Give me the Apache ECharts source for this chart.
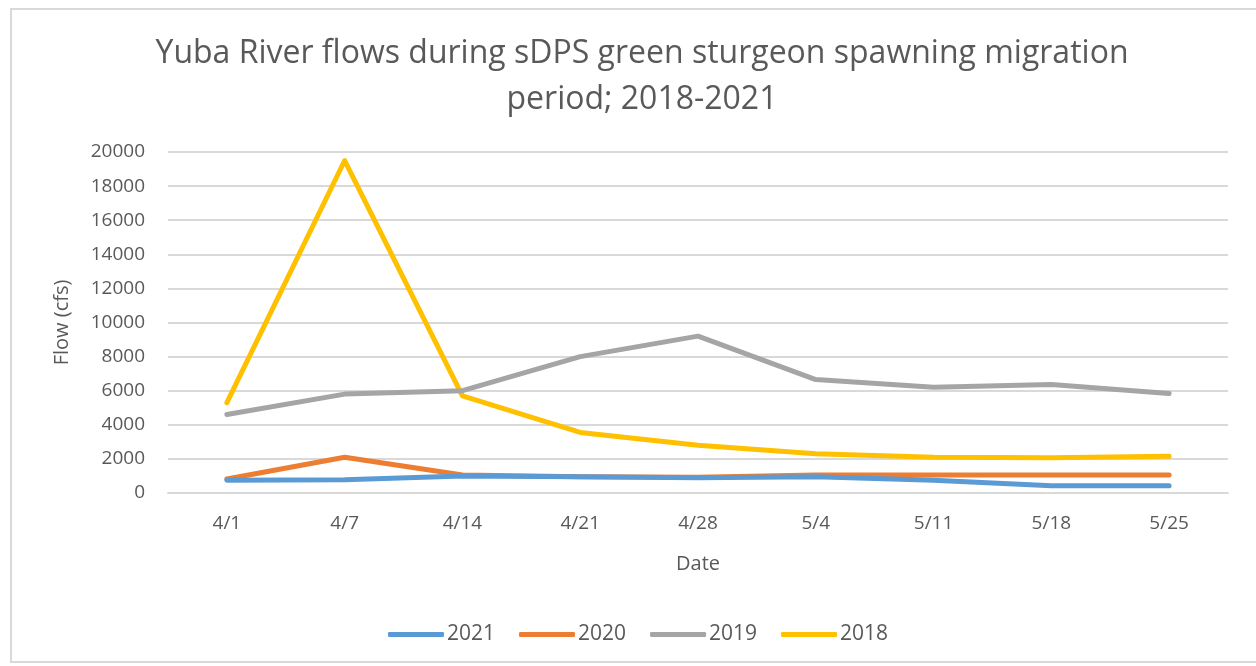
<!DOCTYPE html>
<html>
  <head>
    <meta charset="utf-8">
    <title>Yuba River flows</title>
    <script src="https://cdn.jsdelivr.net/npm/echarts@6/dist/echarts.min.js"></script>
  </head>
  <body style="margin:0;background:#fff;">
    <div id="main" style="width:1256px;height:666px;"></div>
    <script type="text/javascript">
      // dates on the category axis
      var dates = ['4/1', '4/7', '4/14', '4/21', '4/28', '5/4', '5/11', '5/18', '5/25'];
      // flow values (cfs)
      var flow2021 = [750, 780, 1000, 950, 900, 950, 750, 420, 420];
      var flow2020 = [820, 2100, 1060, 960, 920, 1050, 1050, 1050, 1050];
      var flow2019 = [4600, 5800, 6000, 8000, 9200, 6650, 6200, 6370, 5830];
      var flow2018 = [5300, 19500, 5700, 3550, 2800, 2300, 2100, 2070, 2150];
      var yTicks = [0, 2000, 4000, 6000, 8000, 10000, 12000, 14000, 16000, 18000, 20000];

      var font = '"Open Sans", "Noto Sans", sans-serif';
      var txt = '#595959';
      var colors = ['#5B9BD5', '#ED7D31', '#A5A5A5', '#FFC000'];

      function line(name, data, i) {
        return {
          name: name,
          type: 'line',
          data: data,
          symbol: 'none',
          z: 10 - i,
          lineStyle: { width: 5, color: colors[i], cap: 'round', join: 'round' },
          itemStyle: { color: colors[i] }
        };
      }

      var myChart = echarts.init(document.getElementById('main'));
      myChart.setOption({
        animation: false,
        color: colors,
        textStyle: { fontFamily: font },
        graphic: [{
          type: 'rect',
          shape: { x: 11, y: 9, width: 1300, height: 653 },
          style: { fill: 'none', stroke: '#d9d9d9', lineWidth: 2 },
          silent: true
        }],
        title: {
          text: 'Yuba River flows during sDPS green sturgeon spawning migration\nperiod; 2018-2021',
          left: 637,
          textAlign: 'center',
          top: 26,
          textStyle: { fontFamily: font, fontSize: 32, fontWeight: 'normal', color: txt, lineHeight: 46 }
        },
        legend: {
          bottom: 16,
          left: 383,
          icon: 'roundRect',
          itemWidth: 56,
          itemHeight: 5,
          itemGap: 24,
          textStyle: { fontFamily: font, fontSize: 21, color: txt, padding: [0, 0, 0, -2] },
          data: ['2021', '2020', '2019', '2018']
        },
        grid: { left: 168, right: 28, top: 152, bottom: 173 },
        xAxis: {
          type: 'category',
          data: dates,
          boundaryGap: true,
          name: 'Date',
          nameLocation: 'middle',
          nameGap: 61,
          nameTextStyle: { fontSize: 20, color: txt },
          axisLine: { lineStyle: { color: '#d9d9d9', width: 2 } },
          axisTick: { show: false },
          axisLabel: { fontSize: 19, color: txt, margin: 21 }
        },
        yAxis: {
          type: 'value',
          min: yTicks[0],
          max: yTicks[yTicks.length - 1],
          interval: yTicks[1] - yTicks[0],
          name: 'Flow (cfs)',
          nameLocation: 'middle',
          nameGap: 96,
          nameTextStyle: { fontSize: 20, color: txt },
          axisLine: { show: false },
          axisTick: { show: false },
          axisLabel: { fontSize: 19, color: txt, margin: 23, formatter: function (v) { return String(v); } },
          splitLine: { lineStyle: { color: '#d9d9d9', width: 2 } }
        },
        series: [
          line('2021', flow2021, 0),
          line('2020', flow2020, 1),
          line('2019', flow2019, 2),
          line('2018', flow2018, 3)
        ]
      });
    </script>
  </body>
</html>
